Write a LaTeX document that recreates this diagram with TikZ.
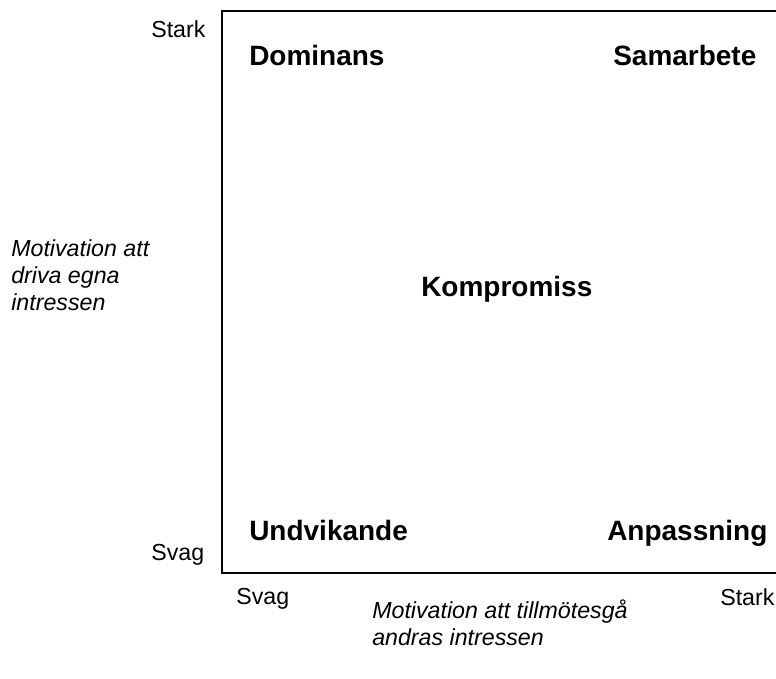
\documentclass[tikz,border=0pt]{standalone}
\usepackage{fontspec}
\setmainfont{Liberation Sans}
\tikzset{>=latex}
\tikzset{
  quadlabel/.style={inner sep=0pt,anchor=base west,font=\fontsize{19.9}{23}\selectfont\bfseries},
  scalelabel/.style={inner sep=0pt,anchor=base west,font=\fontsize{16.5}{19.2}\selectfont},
  axistitle/.style={inner sep=0pt,anchor=base west,align=left,font=\fontsize{16.5}{19.2}\selectfont\itshape}
}

\begin{document}
\begin{tikzpicture}[x=0.025cm,y=-0.025cm]
  \useasboundingbox (0,0) rectangle (776,678);
  \coordinate (tl) at (222,11);
  \coordinate (bl) at (222,573);
  \draw[line width=1.4pt] (776,11) -- (tl) -- (bl) -- (776,573);
  \node[quadlabel] (dom) at (249,65) {Dominans};
  \node[quadlabel] (sam) at (613,65) {Samarbete};
  \node[quadlabel] (komp) at (421,296) {Kompromiss};
  \node[quadlabel] (undv) at (249,540) {Undvikande};
  \node[quadlabel] (anp) at (607,540) {Anpassning};
  \node[scalelabel] (ystark) at (151,37) {Stark};
  \node[scalelabel] (ysvag) at (151,560) {Svag};
  \node[scalelabel] (xsvag) at (236,604) {Svag};
  \node[scalelabel] (xstark) at (720,605) {Stark};
  \node[axistitle] (ytitle) at (11,310) {Motivation att\\driva egna\\intressen};
  \node[axistitle] (xtitle) at (372,645) {Motivation att tillmötesgå\\andras intressen};
\end{tikzpicture}
\end{document}
